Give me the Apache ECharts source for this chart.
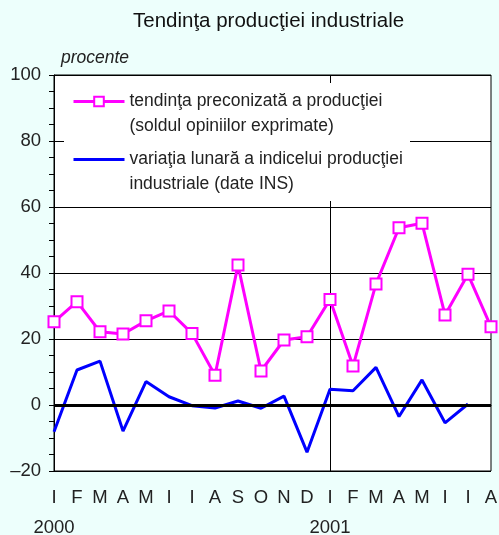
<!DOCTYPE html>
<html>
<head>
<meta charset="utf-8">
<script src="https://cdn.jsdelivr.net/npm/echarts@6/dist/echarts.min.js"></script>
<style>
  html, body { margin: 0; padding: 0; background: #edfffc; }
  #chart { width: 499px; height: 535px; }
</style>
</head>
<body>
<div id="chart"></div>
<script>
var months = ['I', 'F', 'M', 'A', 'M', 'I', 'I', 'A', 'S', 'O', 'N', 'D',
              'I', 'F', 'M', 'A', 'M', 'I', 'I', 'A'];
var years = {0: '2000', 12: '2001'};
// tendinta preconizata a productiei (soldul opiniilor exprimate)
var trend = [25.2, 31.3, 22.2, 21.5, 25.5, 28.5, 21.7, 9.0, 42.4, 10.3, 19.7, 20.7,
             32.0, 11.8, 36.7, 53.7, 55.1, 27.3, 39.6, 23.7];
// variatia lunara a indicelui productiei industriale (date INS)
var monthly = [-8.1, 10.6, 13.3, -7.9, 7.1, 2.5, -0.2, -0.9, 1.2, -1.0, 2.7, -14.3,
               4.8, 4.3, 11.4, -3.5, 7.6, -5.4, 0.3, null];

var names = ['tendinţa preconizată a producţiei\n(soldul opiniilor exprimate)',
             'variaţia lunară a indicelui producţiei\nindustriale (date INS)'];
var cats = months.map(function (m, i) { return m + '_' + i; });

var myChart = echarts.init(document.getElementById('chart'));
var font = 'Liberation Sans, Arial, sans-serif';
var option = {
  backgroundColor: '#edfffc',
  animation: false,
  textStyle: { fontFamily: font },
  title: {
    text: 'Tendinţa producţiei industriale',
    left: 133, top: 11, padding: 0,
    textStyle: { fontSize: 20.5, fontWeight: 'normal', color: '#111', fontFamily: font }
  },
  graphic: [{
    type: 'rect', z: 1,
    shape: { x: 64, y: 83, width: 346, height: 118 },
    style: { fill: '#fff' }
  }],
  legend: {
    orient: 'vertical',
    left: 72, top: 64, padding: 0,
    itemWidth: 51, itemHeight: 12, itemGap: -17,
    data: [
      { name: names[0], lineStyle: { width: 3 } },
      { name: names[1], lineStyle: { width: 3 }, itemStyle: { opacity: 0 } }
    ],
    // leading empty line keeps the icon level with the first text line
    formatter: function (name) { return '\n' + name; },
    textStyle: { fontSize: 17.5, lineHeight: 25, color: '#222', fontFamily: font }
  },
  grid: {
    left: 54, right: 8, top: 75, bottom: 64,
    outerBoundsMode: 'none',
    show: true, backgroundColor: '#fff', borderColor: '#000', borderWidth: 1
  },
  xAxis: {
    type: 'category',
    data: cats,
    boundaryGap: false,
    axisLine: { lineStyle: { color: '#000', width: 1 } },
    axisTick: { show: false },
    axisLabel: {
      interval: 0, margin: 12, color: '#222', fontSize: 18.5, lineHeight: 30,
      formatter: function (v, i) {
        return years[i] ? months[i] + '\n' + years[i] : months[i];
      }
    },
    splitLine: {
      show: true,
      interval: function (i) { return i === 12; },
      lineStyle: { color: '#000', width: 1 }
    }
  },
  yAxis: {
    type: 'value',
    min: -20, max: 100, interval: 20,
    name: 'procente',
    nameLocation: 'end',
    nameGap: 8,
    nameTextStyle: { fontSize: 17.5, fontStyle: 'italic', color: '#222', align: 'left', padding: [0, 0, 0, 7] },
    axisLine: { show: true, lineStyle: { color: '#000', width: 1 } },
    axisTick: { show: true, length: 5, lineStyle: { color: '#000' } },
    minorTick: { show: true, splitNumber: 4, length: 5, lineStyle: { color: '#000' } },
    axisLabel: {
      margin: 13, color: '#222', fontSize: 18.5,
      formatter: function (v) { return String(v).replace('-', '–'); }
    },
    splitLine: { show: true, lineStyle: { color: '#000', width: 1 } }
  },
  series: [
    {
      name: names[0],
      type: 'line',
      data: trend,
      symbol: 'emptyRect',
      symbolSize: 11,
      showAllSymbol: true,
      color: '#ff00ff',
      lineStyle: { color: '#ff00ff', width: 3 },
      itemStyle: { color: '#ff00ff', borderColor: '#ff00ff', borderWidth: 2.5 },
      z: 3,
      markLine: {
        silent: true,
        symbol: 'none',
        label: { show: false },
        lineStyle: { color: '#000', width: 3, type: 'solid' },
        data: [{ yAxis: 0 }]
      }
    },
    {
      name: names[1],
      type: 'line',
      data: monthly,
      symbol: 'none',
      color: '#0000ff',
      lineStyle: { color: '#0000ff', width: 3 },
      z: 4
    }
  ]
};
option && myChart.setOption(option);
</script>
</body>
</html>
